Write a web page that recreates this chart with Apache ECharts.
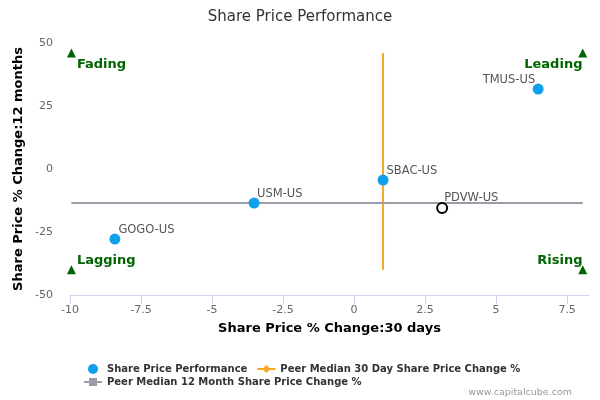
<!DOCTYPE html>
<html><head><meta charset="utf-8">
<script src="https://cdn.jsdelivr.net/npm/echarts@6/dist/echarts.min.js"></script>
<style>html,body{margin:0;padding:0;background:#fff}#c{width:600px;height:400px}</style>
</head><body><div id="c"></div>
<script>
var companies = ['TMUS-US','SBAC-US','USM-US','GOGO-US'];
var change30d = [6.48, 1.02, -3.52, -8.42];
var change12m = [31.7, -4.4, -13.5, -27.8];
var subjectName = 'PDVW-US';
var subject30d = 3.1;
var subject12m = -15.5;
var peerMedian30d = 1.02;
var peerMedian12m = -13.5;
var quadrantNames = ['Fading','Lagging','Leading','Rising'];
var quadrantX = [-9.95, -9.95, 8.05, 8.05];
var quadrantY = [46, -40, 46, -40];
var xTicks = [-10, -7.5, -5, -2.5, 0, 2.5, 5, 7.5];
var yTicks = [-50, -25, 0, 25, 50];

var font = 'DejaVu Sans';
var labelOff = [[-50,-10],[9,-10],[8.5,-10],[9,-10]];
var qOff = [[10,10],[10,-11],[-54,10],[-41,-11]];

function fmt(v){ return String(v); }

var legendText = {fontFamily:font, fontSize:10, fontWeight:'bold', color:'#333'};

var chart = echarts.init(document.getElementById('c'), null, {renderer:'canvas'});
chart.setOption({
  animation:false,
  textStyle:{fontFamily:font},
  title:{text:'Share Price Performance', left:'center', top:5,
    textStyle:{fontFamily:font, fontSize:15, fontWeight:'normal', color:'#333'}},
  grid:{left:70, right:11, top:43, bottom:105, outerBoundsMode:'none'},
  xAxis:{type:'value', min:-10, max:8.27, interval:2.5,
    name:'Share Price % Change:30 days', nameLocation:'middle', nameGap:27,
    nameTextStyle:{fontFamily:font, fontSize:13, fontWeight:'bold', color:'#000'},
    axisLine:{show:true, onZero:false, lineStyle:{color:'#ccd6eb'}},
    axisTick:{show:true, length:9, customValues:xTicks, lineStyle:{color:'#ccd6eb'}},
    splitLine:{show:false},
    axisLabel:{color:'#666', fontSize:11, fontFamily:font, margin:10, customValues:xTicks,
      formatter:function(v){ return fmt(v); }}
  },
  yAxis:{type:'value', min:-50, max:50, interval:25,
    name:'Share Price % Change:12 months', nameLocation:'middle', nameGap:45,
    nameMoveOverlap:false,
    nameTextStyle:{fontFamily:font, fontSize:13, fontWeight:'bold', color:'#000'},
    axisLine:{show:false}, axisTick:{show:false}, splitLine:{show:false},
    axisLabel:{color:'#666', fontSize:11, fontFamily:font, margin:17,
      formatter:function(v){ return yTicks.indexOf(v)>=0 ? fmt(v) : ''; }}
  },
  legend:[
    {left:88, top:364, itemGap:9, itemWidth:18, itemHeight:10, padding:0,
      textStyle:legendText,
      data:[
        {name:'Share Price Performance', icon:'circle'},
        {name:'Peer Median 30 Day Share Price Change %'}
      ]},
    {left:83, top:377, itemGap:19, itemWidth:18, itemHeight:10, padding:0,
      textStyle:legendText,
      data:[{name:'Peer Median 12 Month Share Price Change %'}]}
  ],
  graphic:[{type:'text', right:28, bottom:2,
    style:{text:'www.capitalcube.com', fill:'#999', font:'9.5px DejaVu Sans'}}],
  series:[
    {name:'Peer Median 30 Day Share Price Change %', type:'line',
      data:[[peerMedian30d, quadrantY[1]],[peerMedian30d, quadrantY[0]]],
      color:'#f8a623', symbol:'diamond', symbolSize:10, showSymbol:false,
      lineStyle:{width:2, color:'#f8a623'}, z:2},
    {name:'Peer Median 12 Month Share Price Change %', type:'line',
      data:[[quadrantX[0], peerMedian12m],[quadrantX[2], peerMedian12m]],
      color:'#9a9ca8', symbol:'rect', symbolSize:9, showSymbol:false,
      lineStyle:{width:2, color:'#9a9ca8'}, z:2},
    {name:'Share Price Performance', type:'scatter', symbolSize:11,
      itemStyle:{color:'#0ea0ea', opacity:1}, z:4,
      data:companies.map(function(n,i){
        return {value:[change30d[i], change12m[i]], name:n,
          label:{show:true, position:labelOff[i],
            formatter:n, color:'#555', fontSize:11.5, fontFamily:font}};
      })},
    {name:subjectName, type:'scatter', symbolSize:10, z:5,
      itemStyle:{color:'#fff', borderColor:'#000', borderWidth:2, opacity:1},
      data:[{value:[subject30d, subject12m],
        label:{show:true, position:[8,-10], formatter:subjectName, color:'#555', fontSize:11.5, fontFamily:font}}]},
    {name:'quadrants', type:'scatter', symbol:'triangle', symbolSize:9, z:3,
      itemStyle:{color:'#006400', opacity:1},
      data:quadrantNames.map(function(n,i){
        return {value:[quadrantX[i], quadrantY[i]],
          label:{show:true, position:qOff[i], formatter:n, color:'#006400',
            fontSize:13, fontWeight:'bold', fontFamily:font}};
      })}
  ]
});
</script></body></html>
